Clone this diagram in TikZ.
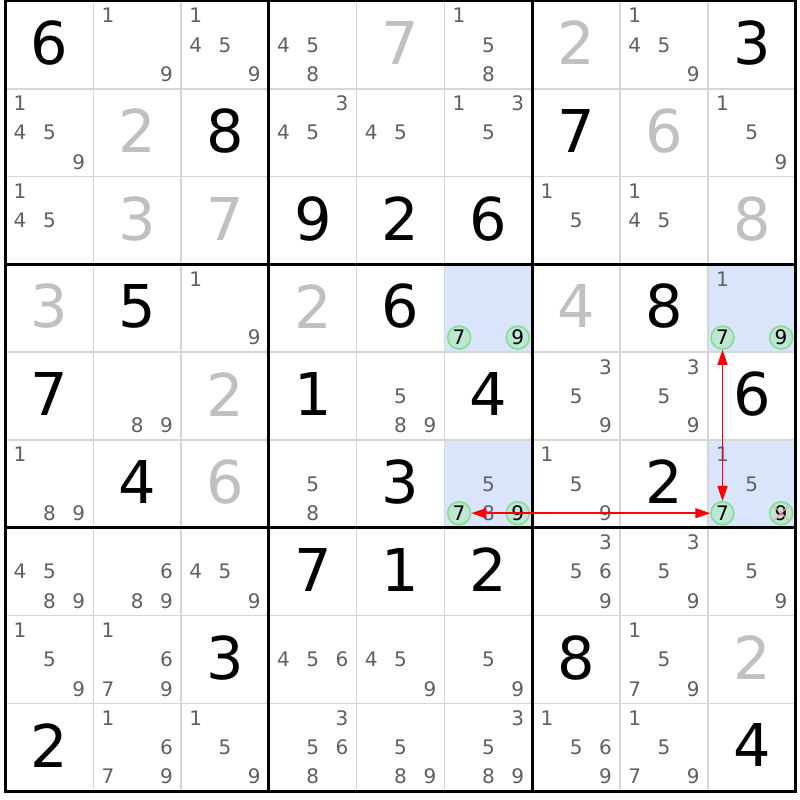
\documentclass[tikz,border=0pt]{standalone}
\usepackage{fontspec}
\setmainfont{DejaVu Sans}
\usetikzlibrary{arrows.meta}
\definecolor{candgray}{RGB}{96,96,96}
\definecolor{solvedgray}{RGB}{192,192,192}
\definecolor{gridgray}{RGB}{214,214,214}
\definecolor{cellblue}{RGB}{218,228,250}
\definecolor{linkgreen}{RGB}{128,222,140}
\definecolor{linkfill}{RGB}{190,230,212}
\begin{document}
\begin{tikzpicture}[x=1pt,y=-1pt,
    given/.style={font=\fontsize{59}{59}\selectfont, inner sep=0pt},
    solved/.style={given, text=solvedgray},
    cand/.style={font=\fontsize{20}{20}\selectfont, inner sep=0pt, text=candgray},
    link/.style={cand, text=black, circle, draw=linkgreen, fill=linkfill, line width=1.5pt, minimum size=23pt},
    chain/.style={red, line width=1.5pt, {Triangle[length=15pt,width=10pt]}-{Triangle[length=15pt,width=10pt]}}]
        \useasboundingbox (0,0) rectangle (800,800);
        \fill[white] (0,0) rectangle (800,800);
        \def\cs{87.8}
        \foreach \rw/\cl in {4/6,4/9,6/6,6/9}
            \fill[cellblue] ({5.5+(\cl-1)*\cs},{1+(\rw-1)*\cs}) rectangle ++(\cs,\cs);
        \foreach \i in {1,2,4,5,7,8} {
            \draw[gridgray,line width=1.5pt] ({5.5+\i*\cs},1) -- ++(0,9*\cs);
            \draw[gridgray,line width=1.5pt] (5.5,{1+\i*\cs}) -- ++(9*\cs,0);
        }
        \foreach \i in {3,6} {
            \draw[line width=3pt] ({5.5+\i*\cs},1) -- ++(0,9*\cs);
            \draw[line width=3pt] (5.5,{1+\i*\cs}) -- ++(9*\cs,0);
        }
        \draw[line width=3pt] (5.5,1) rectangle ++(9*\cs,9*\cs);
        % placed digits
        \foreach \rw/\cl/\d in {1/1/6,1/9/3,2/3/8,2/7/7,3/4/9,3/5/2,3/6/6,4/2/5,4/5/6,4/8/8,5/1/7,5/4/1,5/6/4,5/9/6,6/2/4,6/5/3,6/8/2,7/4/7,7/5/1,7/6/2,8/3/3,8/7/8,9/1/2,9/9/4}
            \node[given] (r\rw c\cl) at ({5.5+(\cl-0.5)*\cs},{1+(\rw-1)*\cs+42}) {\d};
        \foreach \rw/\cl/\d in {1/5/7,1/7/2,2/2/2,2/8/6,3/2/3,3/3/7,3/9/8,4/1/3,4/4/2,4/7/4,5/3/2,6/3/6,8/9/2}
            \node[solved] (r\rw c\cl) at ({5.5+(\cl-0.5)*\cs},{1+(\rw-1)*\cs+42}) {\d};
        % candidates
        \foreach \rw/\cl/\ds in {1/2/{1,9},1/3/{1,4,5,9},1/4/{4,5,8},1/6/{1,5,8},1/8/{1,4,5,9},
            2/1/{1,4,5,9},2/4/{3,4,5},2/5/{4,5},2/6/{1,3,5},2/9/{1,5,9},
            3/1/{1,4,5},3/7/{1,5},3/8/{1,4,5},
            4/3/{1,9},4/9/{1},
            5/2/{8,9},5/5/{5,8,9},5/7/{3,5,9},5/8/{3,5,9},
            6/1/{1,8,9},6/4/{5,8},6/6/{5,8},6/7/{1,5,9},6/9/{1,5},
            7/1/{4,5,8,9},7/2/{6,8,9},7/3/{4,5,9},7/7/{3,5,6,9},7/8/{3,5,9},7/9/{5,9},
            8/1/{1,5,9},8/2/{1,6,7,9},8/4/{4,5,6},8/5/{4,5,9},8/6/{5,9},8/8/{1,5,7,9},
            9/2/{1,6,7,9},9/3/{1,5,9},9/4/{3,5,6,8},9/5/{5,8,9},9/6/{3,5,8,9},9/7/{1,5,6,9},9/8/{1,5,7,9}}
            \foreach \d in \ds {
                \pgfmathtruncatemacro\px{mod(\d-1,3)}
                \pgfmathtruncatemacro\py{int((\d-1)/3)}
                \node[cand] (r\rw c\cl-\d) at ({5.5+(\cl-1)*\cs+14.6+\px*29.3},{1+(\rw-1)*\cs+14.6+\py*29.3}) {\d};
            }
        \foreach \rw/\cl in {4/6,4/9,6/6,6/9}
            \foreach \d in {7,9} {
                \pgfmathtruncatemacro\px{mod(\d-1,3)}
                \pgfmathtruncatemacro\py{int((\d-1)/3)}
                \node[link] (r\rw c\cl-\d) at ({5.5+(\cl-1)*\cs+14.6+\px*29.3},{1+(\rw-1)*\cs+14.6+\py*29.3}) {\d};
            }
        \draw[red!40,line width=1.5pt,opacity=.8] ([shift={(-7,-7)}]r6c9-9.center) -- ([shift={(7,7)}]r6c9-9.center);
        \draw[red!40,line width=1.5pt,opacity=.8] ([shift={(-7,7)}]r6c9-9.center) -- ([shift={(7,-7)}]r6c9-9.center);
        \draw[chain] (r4c9-7) -- (r6c9-7);
        \draw[chain] (r6c6-7) -- (r6c9-7);
\end{tikzpicture}
\end{document}
